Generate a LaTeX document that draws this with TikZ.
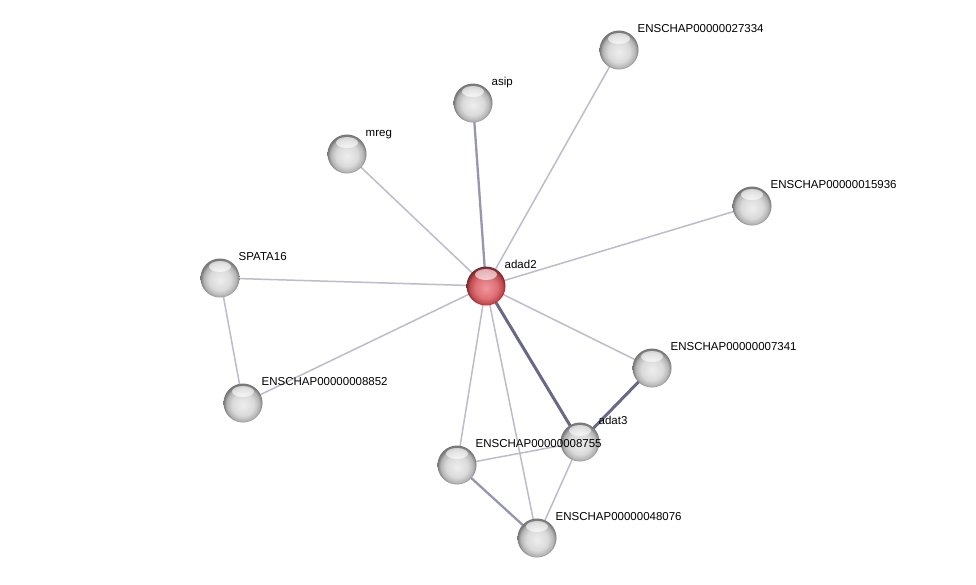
\documentclass[tikz,border=0pt]{standalone}
\usepackage{fontspec}
\setmainfont{Liberation Sans}
\definecolor{ethin}{RGB}{188,188,204}
\definecolor{emed}{RGB}{150,150,175}
\definecolor{ethick}{RGB}{105,105,135}
\definecolor{gin}{RGB}{238,238,238}
\definecolor{gmid}{RGB}{218,218,218}
\definecolor{grim}{RGB}{180,180,180}
\definecolor{gout}{RGB}{120,120,120}
\definecolor{rin}{RGB}{240,150,155}
\definecolor{rmid}{RGB}{222,112,118}
\definecolor{rrim}{RGB}{190,75,80}
\definecolor{rout}{RGB}{130,40,45}
\pgfdeclareradialshading{graysphere}{\pgfpoint{0bp}{-3bp}}{color(0bp)=(gin); color(14bp)=(gmid); color(21bp)=(grim); color(25bp)=(gout); color(50bp)=(gout)}
\pgfdeclareradialshading{redsphere}{\pgfpoint{0bp}{-3bp}}{color(0bp)=(rin); color(14bp)=(rmid); color(21bp)=(rrim); color(25bp)=(rout); color(50bp)=(rout)}
\tikzset{
  prot/.style={circle, minimum size=39pt, inner sep=0pt, shading=graysphere, draw=none,
    path picture={\fill[white,opacity=0.6] ([yshift=-8pt]path picture bounding box.north) ellipse (11pt and 5.5pt);}},
  protred/.style={prot, shading=redsphere},
  lbl/.style={anchor=base west, inner sep=0pt, font=\fontsize{11.5}{13}\selectfont},
  ethinline/.style={draw=ethin, line width=1.5pt},
  emedline/.style={draw=emed, line width=2.3pt},
  ethickline/.style={draw=ethick, line width=3pt},
}
\begin{document}
\begin{tikzpicture}[x=1pt,y=-1pt]
\useasboundingbox (0,0) rectangle (976,584);
\fill[white] (0,0) rectangle (976,584);
% coordinates
\coordinate (cadad2) at (486,286);
\coordinate (casip) at (473,103);
\coordinate (c27334) at (619,50);
\coordinate (cmreg) at (347,154);
\coordinate (c15936) at (752,206);
\coordinate (cspata) at (220,278);
\coordinate (c8852) at (243,403);
\coordinate (c7341) at (652,368);
\coordinate (cadat3) at (580,442);
\coordinate (c8755) at (457,465);
\coordinate (c48076) at (537,538);
% edges
\draw[ethinline] (cadad2) -- (c27334);
\draw[ethinline] (cadad2) -- (cmreg);
\draw[ethinline] (cadad2) -- (c15936);
\draw[ethinline] (cadad2) -- (cspata);
\draw[ethinline] (cadad2) -- (c8852);
\draw[ethinline] (cadad2) -- (c7341);
\draw[ethinline] (cadad2) -- (c8755);
\draw[ethinline] (cadad2) -- (c48076);
\draw[ethinline] (cspata) -- (c8852);
\draw[ethinline] (c8755) -- (cadat3);
\draw[ethinline] (cadat3) -- (c48076);
\draw[emedline] (cadad2) -- (casip);
\draw[emedline] (c8755) -- (c48076);
\draw[ethickline] (cadad2) -- (cadat3);
\draw[ethickline] (c7341) -- (cadat3);
% nodes
\node[protred] (adad2) at (cadad2) {};
\node[prot] (asip) at (casip) {};
\node[prot] (n27334) at (c27334) {};
\node[prot] (mreg) at (cmreg) {};
\node[prot] (n15936) at (c15936) {};
\node[prot] (spata) at (cspata) {};
\node[prot] (n8852) at (c8852) {};
\node[prot] (n7341) at (c7341) {};
\node[prot] (adat3) at (cadat3) {};
\node[prot] (n8755) at (c8755) {};
\node[prot] (n48076) at (c48076) {};
% labels
\node[lbl] (ladad2) at ([shift={(18.5,-17.5)}]cadad2) {adad2};
\node[lbl] (lasip) at ([shift={(18.5,-17.5)}]casip) {asip};
\node[lbl] (l27334) at ([shift={(18.5,-17.5)}]c27334) {ENSCHAP00000027334};
\node[lbl] (lmreg) at ([shift={(18.5,-17.5)}]cmreg) {mreg};
\node[lbl] (l15936) at ([shift={(18.5,-17.5)}]c15936) {ENSCHAP00000015936};
\node[lbl] (lspata) at ([shift={(18.5,-17.5)}]cspata) {SPATA16};
\node[lbl] (l8852) at ([shift={(18.5,-17.5)}]c8852) {ENSCHAP00000008852};
\node[lbl] (l7341) at ([shift={(18.5,-17.5)}]c7341) {ENSCHAP00000007341};
\node[lbl] (ladat3) at ([shift={(18.5,-17.5)}]cadat3) {adat3};
\node[lbl] (l8755) at ([shift={(18.5,-17.5)}]c8755) {ENSCHAP00000008755};
\node[lbl] (l48076) at ([shift={(18.5,-17.5)}]c48076) {ENSCHAP00000048076};
\end{tikzpicture}
\end{document}
